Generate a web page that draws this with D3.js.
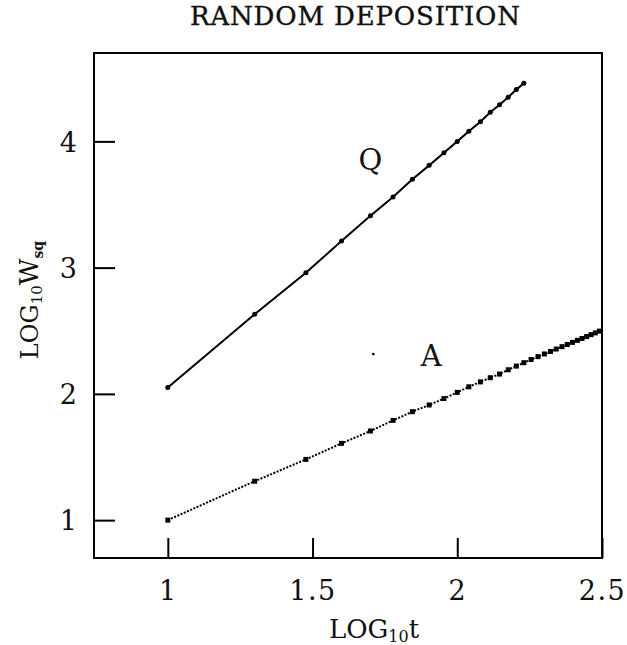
<!DOCTYPE html>
<html><head><meta charset="utf-8">
<script src="https://cdn.jsdelivr.net/npm/d3@7"></script>
<style>body{margin:0;background:#fff}svg{display:block}text{font-family:"DejaVu Serif",serif;fill:#111}</style>
</head><body><svg id="c" width="627" height="645"></svg>
<script>
const title = "RANDOM DEPOSITION";
const xTicks = [1, 1.5, 2, 2.5];
const xTickLabels = ["1", "1.5", "2", "2.5"];
const yTicks = [1, 2, 3, 4];
const yTickLabels = ["1", "2", "3", "4"];
const qX = [1.0, 1.30, 1.477, 1.60, 1.70, 1.778, 1.845, 1.903, 1.954, 2.0, 2.04, 2.08, 2.114, 2.146, 2.176, 2.204, 2.23];
const qY = [2.05, 2.63, 2.96, 3.21, 3.41, 3.56, 3.70, 3.81, 3.91, 4.00, 4.08, 4.155, 4.23, 4.29, 4.35, 4.41, 4.46];
const aX = [1.0, 1.30, 1.477, 1.60, 1.70, 1.778, 1.845, 1.903, 1.954, 2.0, 2.04, 2.08, 2.114, 2.146, 2.176, 2.204, 2.23,
            2.255, 2.279, 2.301, 2.322, 2.342, 2.362, 2.38, 2.398, 2.415, 2.431, 2.447, 2.462, 2.477, 2.491];
const aY = [1.0, 1.308, 1.481, 1.608, 1.706, 1.79, 1.859, 1.912, 1.963, 2.012, 2.056, 2.095, 2.128, 2.157, 2.191, 2.22, 2.247,
            2.272, 2.295, 2.316, 2.336, 2.355, 2.374, 2.391, 2.408, 2.424, 2.439, 2.454, 2.469, 2.483, 2.497];
const labels = [{t:"Q", x:1.70, y:3.77}, {t:"A", x:1.91, y:2.22}];
const specks = [{x:1.71, y:2.315}];

const svg = d3.select("#c");
const L=94, R=602, T=53, B=558;
const x = d3.scaleLinear().domain([0.745, 2.5]).range([L, R]);
const y = d3.scaleLinear().domain([0.7, 4.7]).range([B, T]);

svg.append("text").attr("x", 355).attr("y", 25).attr("text-anchor","middle")
  .attr("textLength",330).attr("lengthAdjust","spacing")
  .style("font-size","26px").style("stroke","#111").style("stroke-width","0.4px").text(title);

// x axis
const gx = svg.append("g").attr("transform",`translate(0,${B})`)
  .call(d3.axisBottom(x).tickValues(xTicks).tickFormat((d,i)=>xTickLabels[i]).tickSizeInner(-20).tickSizeOuter(0));
gx.select(".domain").remove();
gx.selectAll("line").attr("stroke","#000").attr("stroke-width",2);
gx.selectAll("text").attr("y",42).attr("dy",0).style("font-size","27px").style("letter-spacing","1.5px").attr("fill","#111");

const gy = svg.append("g").attr("transform",`translate(${L},0)`)
  .call(d3.axisLeft(y).tickValues(yTicks).tickFormat((d,i)=>yTickLabels[i]).tickSizeInner(-21).tickSizeOuter(0));
gy.select(".domain").remove();
gy.selectAll("line").attr("stroke","#000").attr("stroke-width",2);
gy.selectAll("text").attr("x",-17).attr("dy","0.36em").style("font-size","27px").attr("fill","#111");

svg.append("rect").attr("x",L).attr("y",T).attr("width",R-L).attr("height",B-T)
  .attr("fill","none").attr("stroke","#000").attr("stroke-width",2);

const q = qX.map((v,i)=>[v,qY[i]]);
const a = aX.map((v,i)=>[v,aY[i]]);
const line = d3.line().x(d=>x(d[0])).y(d=>y(d[1]));
svg.append("path").attr("d",line(q)).attr("fill","none").attr("stroke","#000").attr("stroke-width",2);
svg.append("path").attr("d",line(a)).attr("fill","none").attr("stroke","#000").attr("stroke-width",2).attr("stroke-dasharray","2,1.5");
svg.selectAll(".qp").data(q).enter().append("circle")
  .attr("cx",d=>x(d[0])).attr("cy",d=>y(d[1])).attr("r",2.5).attr("fill","#000");
svg.selectAll(".ap").data(a).enter().append("rect")
  .attr("x",d=>x(d[0])-2.5).attr("y",d=>y(d[1])-2.5).attr("width",5).attr("height",5).attr("fill","#000");
svg.selectAll(".sp").data(specks).enter().append("circle")
  .attr("cx",d=>x(d.x)).attr("cy",d=>y(d.y)).attr("r",1.3).attr("fill","#000");
svg.selectAll(".lb").data(labels).enter().append("text")
  .attr("x",d=>x(d.x)).attr("y",d=>y(d.y)).attr("text-anchor","middle")
  .style("font-size","29px").text(d=>d.t);

// axis titles
const xt = svg.append("text").attr("x",374).attr("y",638).attr("text-anchor","middle").style("font-size","26px");
xt.append("tspan").text("LOG");
xt.append("tspan").attr("dy",4).style("font-size","16px").text("10");
xt.append("tspan").attr("dy",-4).text("t");

const yt = svg.append("text").attr("transform","translate(38,300) rotate(-90)").attr("text-anchor","middle").style("font-size","24px");
yt.append("tspan").text("LOG");
yt.append("tspan").attr("dy",4).style("font-size","15px").text("10");
yt.append("tspan").attr("dy",-4).style("font-size","26px").text("W");
yt.append("tspan").attr("dy",5).style("font-size","14px").style("font-weight","bold").text("sq");
</script></body></html>
